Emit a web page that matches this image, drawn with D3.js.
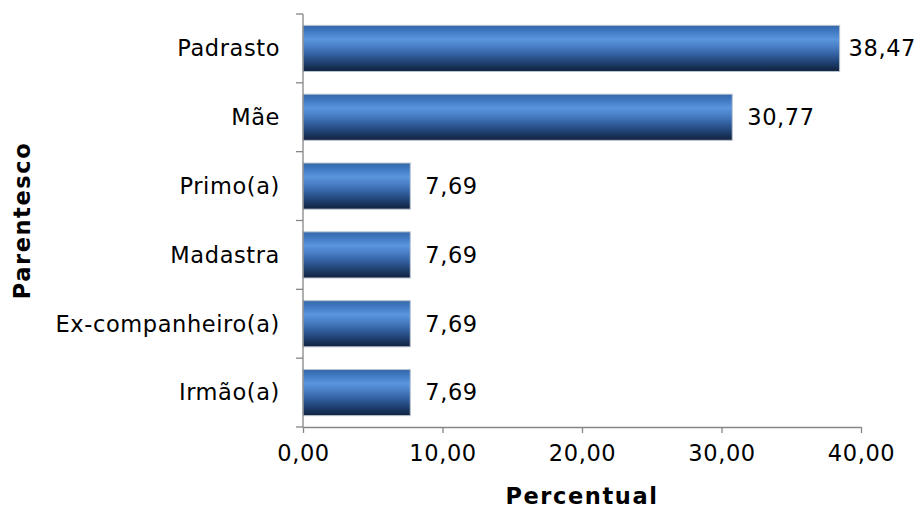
<!DOCTYPE html>
<html>
<head>
<meta charset="utf-8">
<script src="https://cdn.jsdelivr.net/npm/d3@7"></script>
<style>
  html, body { margin: 0; padding: 0; background: #fff; }
  svg { display: block; }
  text { font-family: "DejaVu Sans", Verdana, sans-serif; fill: #000; }
</style>
</head>
<body>
<svg id="chart" width="923" height="508"></svg>
<script>
// Parentesco do agressor, em percentual
const categories = ["Padrasto", "Mãe", "Primo(a)", "Madastra", "Ex-companheiro(a)", "Irmão(a)"];
const values = [38.47, 30.77, 7.69, 7.69, 7.69, 7.69];
const xTicks = [0, 10, 20, 30, 40];

const W = 923, H = 508;
const margin = { left: 303, right: 62, top: 14, bottom: 81 };
const svg = d3.select("#chart");

const FONT = 22.5, SPACING = 0.6;

const x = d3.scaleLinear().domain([0, 40]).range([margin.left, W - margin.right]);
const y = d3.scaleBand().domain(categories).range([margin.top, H - margin.bottom]).paddingInner(0.33).paddingOuter(0.165);

const fmt = v => d3.format(".2f")(v).replace(".", ",");

// vertical gradient for the bars
const defs = svg.append("defs");
const grad = defs.append("linearGradient").attr("id", "barGrad")
  .attr("x1", 0).attr("y1", 0).attr("x2", 0).attr("y2", 1);
[
  [0, "#3567a8"], [0.12, "#3f78c0"], [0.3, "#5a95dd"], [0.45, "#4a80c7"],
  [0.62, "#3462a3"], [0.82, "#1e3f6e"], [1, "#10213d"]
].forEach(([o, c]) => grad.append("stop").attr("offset", o).attr("stop-color", c));

// bars
svg.append("g").selectAll("rect").data(categories).join("rect")
  .attr("x", x(0))
  .attr("y", d => y(d))
  .attr("width", (d, i) => x(values[i]) - x(0))
  .attr("height", y.bandwidth())
  .attr("fill", "url(#barGrad)")
  .attr("stroke", "#b9c3cf")
  .attr("stroke-width", 1);

// value labels, kept inside the drawing area
svg.append("g").selectAll("text").data(categories).join("text")
  .attr("x", (d, i) => x(values[i]) + 15)
  .attr("y", d => y(d) + y.bandwidth() / 2)
  .attr("dy", "0.35em")
  .attr("font-size", FONT).attr("letter-spacing", SPACING)
  .text((d, i) => fmt(values[i]))
  .each(function () {
    const w = this.getComputedTextLength();
    const x0 = +this.getAttribute("x");
    if (x0 + w > W - 7) this.setAttribute("x", W - 7 - w);
  });

// y axis (category boundaries as ticks)
const yAxis = svg.append("g").attr("stroke", "#868686").attr("stroke-width", 1.3);
yAxis.append("line").attr("x1", x(0)).attr("x2", x(0))
  .attr("y1", margin.top).attr("y2", H - margin.bottom);
const step = y.step();
d3.range(categories.length + 1).forEach(i => {
  const yy = margin.top + i * step;
  yAxis.append("line").attr("x1", x(0) - 7).attr("x2", x(0)).attr("y1", yy).attr("y2", yy);
});

// category labels
svg.append("g").selectAll("text").data(categories).join("text")
  .attr("x", x(0) - 23)
  .attr("y", d => y(d) + y.bandwidth() / 2)
  .attr("dy", "0.35em")
  .attr("text-anchor", "end")
  .attr("font-size", FONT).attr("letter-spacing", SPACING)
  .text(d => d);

// x axis
const xAxis = d3.axisBottom(x).tickValues(xTicks).tickSize(6).tickSizeOuter(0).tickPadding(12).tickFormat(fmt);
const gx = svg.append("g").attr("transform", `translate(0,${H - margin.bottom})`).call(xAxis);
gx.select(".domain").attr("stroke", "#868686").attr("stroke-width", 1.3);
gx.selectAll(".tick line").attr("stroke", "#868686").attr("stroke-width", 1.3);
gx.selectAll(".tick text").attr("font-size", FONT).attr("letter-spacing", SPACING)
  .attr("font-family", '"DejaVu Sans", Verdana, sans-serif').attr("fill", "#000");

// axis titles
svg.append("text")
  .attr("x", (x(0) + x(40)) / 2).attr("y", 496)
  .attr("dy", "0.35em")
  .attr("text-anchor", "middle")
  .attr("font-size", 22.5).attr("font-weight", "bold").attr("letter-spacing", 1.6)
  .text("Percentual");

svg.append("text")
  .attr("transform", `translate(22,${(margin.top + H - margin.bottom) / 2}) rotate(-90)`)
  .attr("dy", "0.35em")
  .attr("text-anchor", "middle")
  .attr("font-size", 22.5).attr("font-weight", "bold").attr("letter-spacing", 1.6)
  .text("Parentesco");
</script>
</body>
</html>
